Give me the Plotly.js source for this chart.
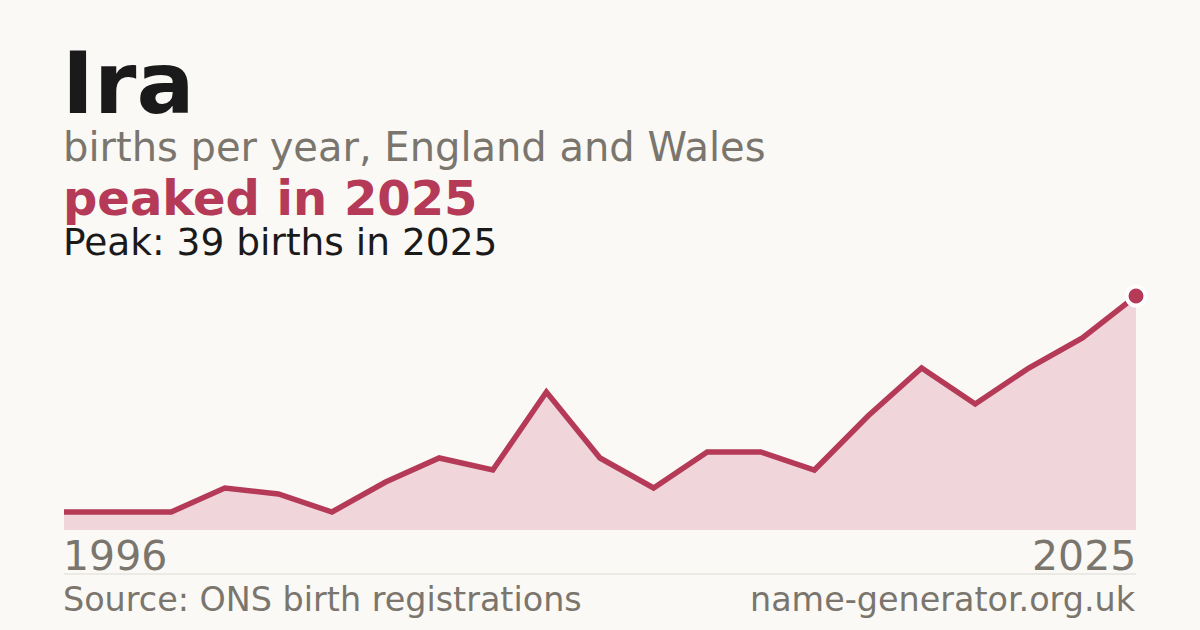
<!DOCTYPE html>
<html>
<head>
<meta charset="utf-8">
<script src="https://cdn.plot.ly/plotly-3.0.1.min.js"></script>
<style>
  html, body { margin: 0; padding: 0; background: #faf9f5; }
  #chart { width: 1200px; height: 630px; }
</style>
</head>
<body>
<div id="chart"></div>
<script>
// Births per year for the name, years with data only
const years = ['1996', '2000', '2003', '2006', '2007', '2009', '2010', '2012', '2013', '2014', '2015',
               '2016', '2017', '2018', '2019', '2020', '2021', '2022', '2023', '2024', '2025'];
const births = [3, 3, 3, 7, 6, 3, 8, 12, 10, 23, 12, 7, 13, 13, 10, 19, 27, 21, 27, 32, 39];

const nameTitle = 'Ira';
const subtitle = 'births per year, England and Wales';
const sourceText = 'Source: ONS birth registrations';
const siteText = 'name-generator.org.uk';

const crimson = '#b43a57';
const grey = '#7a756d';
const ink = '#1a1a1a';
const font = 'DejaVu Sans';

// find the peak
let peakIdx = 0;
births.forEach((v, i) => { if (v >= births[peakIdx]) peakIdx = i; });
const peakYear = years[peakIdx];
const peakVal = births[peakIdx];

// pixel helpers: plot area runs from y=296 (top) to y=530 (bottom)
const plotTop = 296, plotBottom = 530;
const py = p => (plotBottom - p) / (plotBottom - plotTop);

const traces = [
    {
        type: 'scatter',
        mode: 'lines',
        x: years,
        y: births,
        fill: 'tozeroy',
        fillcolor: '#f0d5da',
        line: { color: crimson, width: 5.5 },
        hoverinfo: 'skip',
        cliponaxis: false
    },
    {
        type: 'scatter',
        mode: 'markers',
        x: [peakYear],
        y: [peakVal],
        marker: { size: 19, color: crimson, line: { color: '#ffffff', width: 4 } },
        hoverinfo: 'skip',
        cliponaxis: false
    }
];

function note(text, x, xanchor, top, size, color, bold) {
    return {
        text: bold ? '<b>' + text + '</b>' : text,
        xref: 'paper', yref: 'paper',
        x: x, y: py(top),
        xanchor: xanchor, yanchor: 'top',
        showarrow: false,
        font: { family: font, size: size, color: color }
    };
}

const layout = {
    width: 1200,
    height: 630,
    paper_bgcolor: '#faf9f5',
    plot_bgcolor: 'rgba(0,0,0,0)',
    margin: { l: 64, r: 64, t: plotTop, b: 630 - plotBottom, pad: 0 },
    showlegend: false,
    xaxis: {
        type: 'category',
        range: [0, years.length - 1],
        showgrid: false, zeroline: false, showticklabels: false, ticks: '',
        fixedrange: true
    },
    yaxis: {
        range: [0, peakVal],
        showgrid: false, zeroline: false, showticklabels: false, ticks: '',
        fixedrange: true
    },
    shapes: [{
        type: 'line', xref: 'paper', yref: 'paper',
        x0: 0, x1: 1, y0: py(574), y1: py(574),
        line: { color: '#dedbd4', width: 1 }
    }],
    annotations: [
        note(nameTitle, -0.004, 'left', 31, 86, ink, true),
        note(subtitle, -0.003, 'left', 122, 40, grey, false),
        note('peaked in ' + peakYear, -0.003, 'left', 168, 48, crimson, true),
        note('Peak: ' + peakVal + ' births in ' + peakYear, -0.003, 'left', 218, 37.5, ink, false),
        note(years[0], -0.003, 'left', 530, 41, grey, false),
        note(years[years.length - 1], 1.002, 'right', 530, 41, grey, false),
        note(sourceText, -0.003, 'left', 578, 33.4, grey, false),
        note(siteText, 1.002, 'right', 578, 33.4, grey, false)
    ]
};

Plotly.newPlot('chart', traces, layout, { displayModeBar: false, staticPlot: true });
</script>
</body>
</html>
